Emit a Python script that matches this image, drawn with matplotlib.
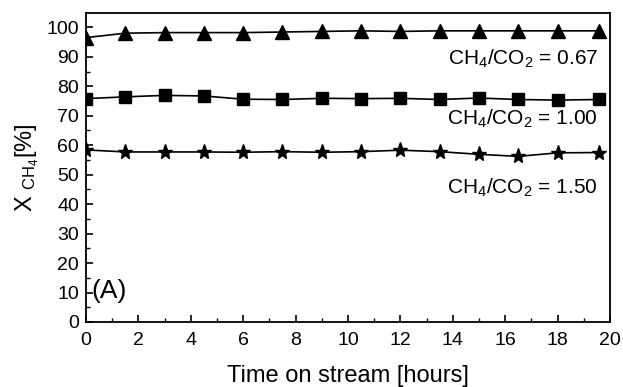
import numpy as np
import matplotlib
matplotlib.use("Agg")
import matplotlib.pyplot as plt
from matplotlib.ticker import MultipleLocator

plt.rcParams['font.family'] = ['Liberation Sans', 'DejaVu Sans']
plt.rcParams['mathtext.fontset'] = 'custom'
plt.rcParams['mathtext.rm'] = 'Liberation Sans'
plt.rcParams['mathtext.it'] = 'Liberation Sans'

# time on stream [hours]
hours = [0, 1.5, 3, 4.5, 6, 7.5, 9, 10.5, 12, 13.5, 15, 16.5, 18, 19.6]

# CH4 conversion [%] for each feed ratio
x_067 = [96.5, 98.0, 98.2, 98.2, 98.2, 98.4, 98.6, 98.8, 98.6, 98.8, 98.8, 98.8, 98.8, 98.8]
x_100 = [75.8, 76.4, 76.9, 76.7, 75.6, 75.5, 75.9, 75.8, 75.9, 75.5, 76.0, 75.5, 75.3, 75.5]
x_150 = [58.4, 57.7, 57.7, 57.7, 57.6, 57.8, 57.6, 57.8, 58.3, 57.8, 56.9, 56.2, 57.4, 57.5]

labels = ["CH$_4$/CO$_2$ = 0.67", "CH$_4$/CO$_2$ = 1.00", "CH$_4$/CO$_2$ = 1.50"]
label_y = [89.3, 69.0, 45.4]

fig = plt.figure(figsize=(6.23, 3.87), dpi=100)
ax = fig.add_axes([0.138, 0.168, 0.841, 0.798])

ax.plot(hours, x_067, "k-", marker="^", ms=10, lw=1.2)
ax.plot(hours, x_100, "k-", marker="s", ms=8, lw=1.2)
ax.plot(hours, x_150, "k-", marker="*", ms=11, lw=1.2)

for lab, yy in zip(labels, label_y):
    ax.text(19.55, yy, lab, ha="right", va="center", fontsize=15)

ax.text(0.2, 10.5, "(A)", fontsize=19, ha="left", va="center")

ax.set_xlim(0, 20)
ax.set_ylim(0, 104.8)
ax.xaxis.set_major_locator(MultipleLocator(2))
ax.xaxis.set_minor_locator(MultipleLocator(1))
ax.yaxis.set_major_locator(MultipleLocator(10))
ax.yaxis.set_minor_locator(MultipleLocator(5))
ax.tick_params(which="both", direction="in", top=False, right=False, labelsize=14)
ax.tick_params(axis="x", pad=7)
ax.tick_params(axis="y", pad=5)
ax.tick_params(which="major", length=5, width=1.2)
ax.tick_params(which="minor", length=3, width=1.0)
for s in ax.spines.values():
    s.set_linewidth(1.3)

ax.set_xlabel("Time on stream [hours]", fontsize=17, labelpad=12)
ax.set_ylabel("X $_{\\rm CH_4}$[%]", fontsize=17, labelpad=4)

fig.savefig("out.png", dpi=100)
